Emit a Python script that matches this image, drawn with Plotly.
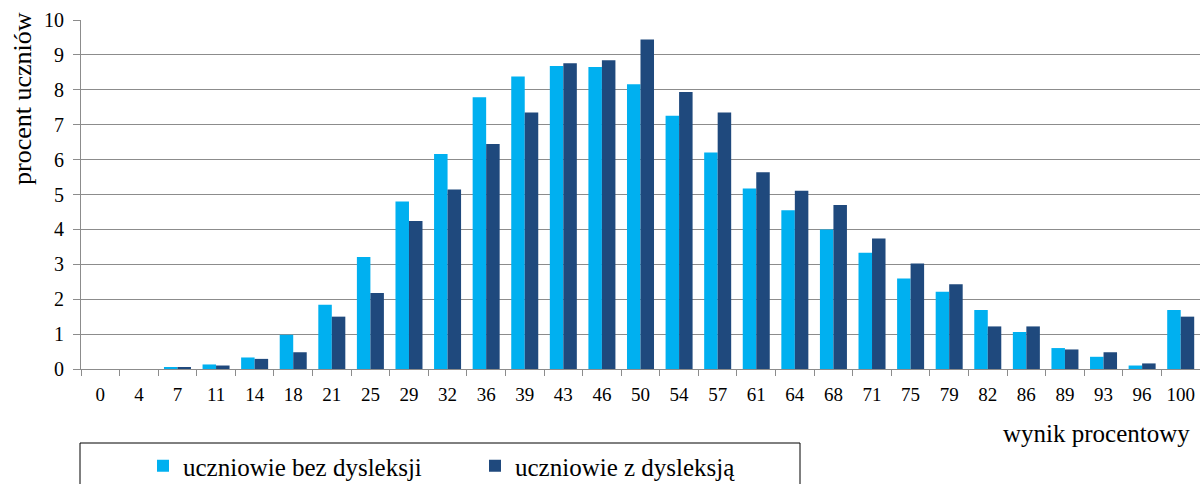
import plotly.graph_objects as go

categories = ["0", "4", "7", "11", "14", "18", "21", "25", "29", "32", "36", "39", "43", "46",
              "50", "54", "57", "61", "64", "68", "71", "75", "79", "82", "86", "89", "93", "96", "100"]
bez_dysleksji = [0, 0, 0.05, 0.13, 0.33, 0.98, 1.84, 3.21, 4.8, 6.16, 7.79, 8.38, 8.68, 8.65,
                 8.16, 7.26, 6.2, 5.17, 4.55, 4.0, 3.33, 2.59, 2.21, 1.69, 1.06, 0.6, 0.35, 0.1, 1.69]
z_dysleksja = [0, 0, 0.05, 0.1, 0.29, 0.48, 1.5, 2.18, 4.24, 5.14, 6.45, 7.35, 8.76, 8.85,
               9.44, 7.94, 7.35, 5.64, 5.11, 4.7, 3.74, 3.02, 2.43, 1.22, 1.22, 0.56, 0.48, 0.16, 1.5]

FONT = "Liberation Serif, Times New Roman, serif"

fig = go.Figure()
fig.add_trace(go.Bar(x=categories, y=bez_dysleksji, name="uczniowie bez dysleksji",
                     marker=dict(color="#00B0F0", line=dict(width=0))))
fig.add_trace(go.Bar(x=categories, y=z_dysleksja, name="uczniowie z dysleksją",
                     marker=dict(color="#1F497D", line=dict(width=0))))

L, R, T, B = 81, 0, 20, 115
W, H = 1200, 484
pw = W - L - R
ph = H - T - B

def px_x(px):
    return (px - L) / pw

def px_y(py):
    return (H - B - py) / ph

fig.update_layout(
    width=W, height=H,
    margin=dict(l=L, r=R, t=T, b=B, autoexpand=False),
    paper_bgcolor="white", plot_bgcolor="white",
    barmode="group", bargap=0.3, bargroupgap=0,
    font=dict(family=FONT, size=19, color="black"),
    showlegend=True,
    legend=dict(orientation="h", x=px_x(143), y=px_y(466), xanchor="left", yanchor="middle",
                entrywidth=287, entrywidthmode="pixels", font=dict(family=FONT, size=25),
                bgcolor="rgba(0,0,0,0)", itemwidth=30, traceorder="normal"),
    xaxis=dict(type="category", showgrid=False, showline=True, linecolor="#8c8c8c", linewidth=1,
               ticks="outside", tickson="boundaries", ticklen=6, tickcolor="#8c8c8c",
               ticklabelstandoff=8,
               tickfont=dict(family=FONT, size=19), fixedrange=True),
    yaxis=dict(range=[0, 10], dtick=1, showgrid=True, gridcolor="#8c8c8c", gridwidth=1,
               showline=True, linecolor="#8c8c8c", linewidth=1, ticks="outside", ticklen=7,
               ticklabelstandoff=5,
               tickcolor="#8c8c8c", tickfont=dict(family=FONT, size=20), zeroline=False),
    shapes=[dict(type="rect", xref="paper", yref="paper",
                 x0=px_x(80), x1=px_x(800), y0=px_y(443), y1=px_y(492),
                 line=dict(color="black", width=1), fillcolor="rgba(0,0,0,0)")],
    annotations=[
        dict(text="wynik procentowy", xref="paper", yref="paper", x=px_x(1192), y=px_y(433),
             xanchor="right", yanchor="middle", showarrow=False, font=dict(family=FONT, size=25)),
        dict(text="procent uczniów", xref="paper", yref="paper", x=px_x(22), y=px_y(99),
             xanchor="center", yanchor="middle", textangle=-90, showarrow=False,
             font=dict(family=FONT, size=26)),
    ],
)

fig.write_html("out.html", config={"displayModeBar": False},
               post_script="document.body.style.margin='0';")
